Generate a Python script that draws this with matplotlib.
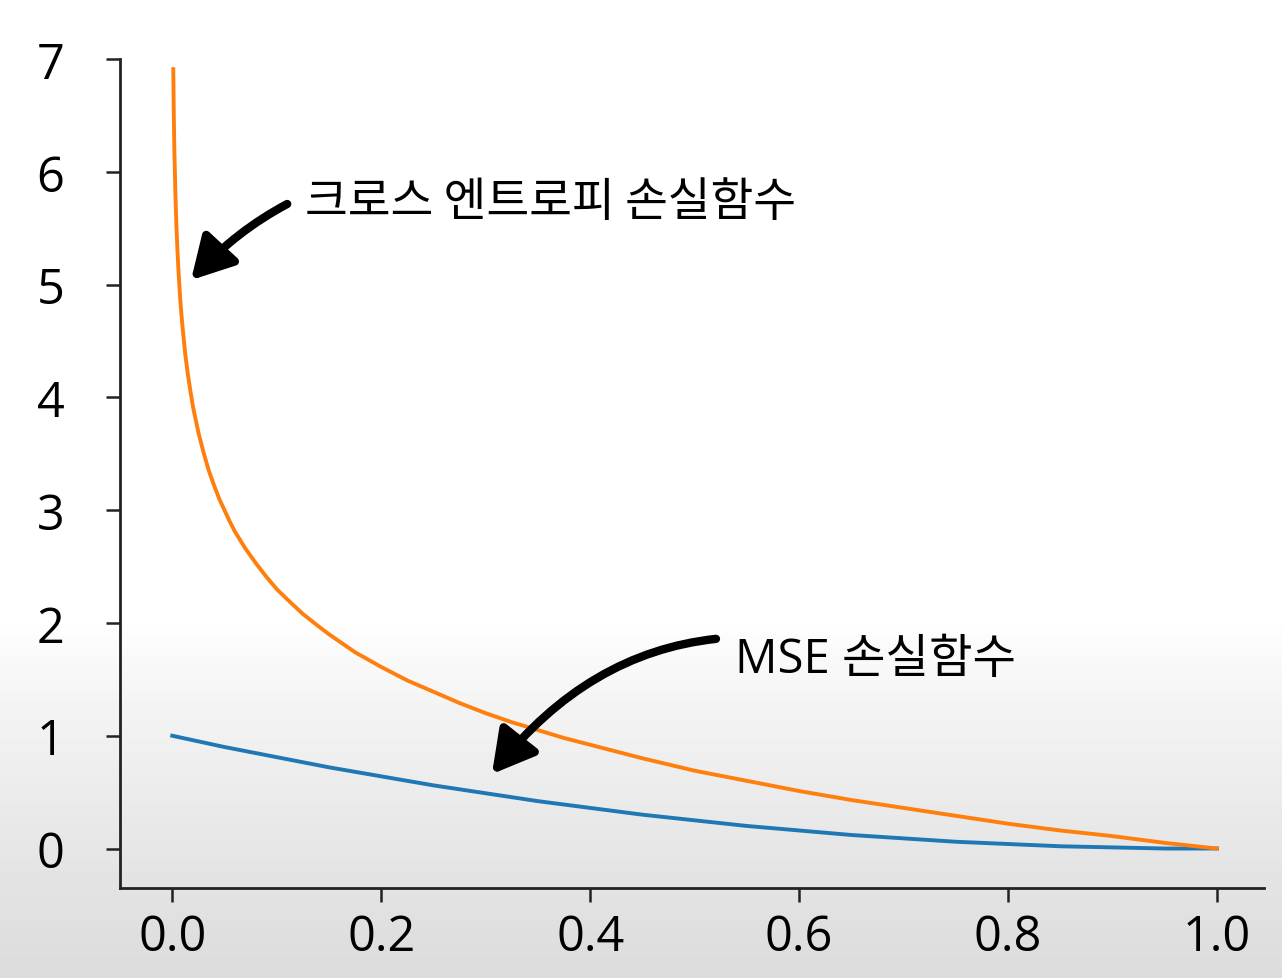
import numpy as np
import matplotlib.pyplot as plt

plt.rcParams['font.family'] = ['Open Sans', 'Noto Sans CJK KR', 'DejaVu Sans']

# 크로스 엔트로피 손실 (주황)
ce_x = [0.001, 0.0015, 0.002, 0.003, 0.004, 0.005, 0.006, 0.0075, 0.009, 0.01,
        0.0125, 0.015, 0.0175, 0.02, 0.025, 0.03, 0.035, 0.04, 0.045, 0.05,
        0.055, 0.06, 0.07, 0.08, 0.09, 0.1, 0.11, 0.125, 0.14, 0.15, 0.175,
        0.2, 0.225, 0.25, 0.275, 0.3, 0.325, 0.35, 0.375, 0.4, 0.45, 0.5, 0.55,
        0.6, 0.65, 0.7, 0.75, 0.8, 0.85, 0.9, 0.95, 1.0]
ce_y = [6.91, 6.50, 6.21, 5.81, 5.52, 5.30, 5.12, 4.89, 4.71, 4.61,
        4.38, 4.20, 4.05, 3.91, 3.69, 3.51, 3.35, 3.22, 3.10, 3.00,
        2.90, 2.81, 2.66, 2.53, 2.41, 2.30, 2.21, 2.08, 1.97, 1.90, 1.74,
        1.61, 1.49, 1.39, 1.29, 1.20, 1.12, 1.05, 0.98, 0.92, 0.80, 0.69, 0.60,
        0.51, 0.43, 0.36, 0.29, 0.22, 0.16, 0.11, 0.05, 0.0]

# MSE 손실 (파랑)
mse_x = [0.0, 0.05, 0.1, 0.15, 0.2, 0.25, 0.3, 0.35, 0.4, 0.45, 0.5,
         0.55, 0.6, 0.65, 0.7, 0.75, 0.8, 0.85, 0.9, 0.95, 1.0]
mse_y = [1.0, 0.90, 0.81, 0.72, 0.64, 0.56, 0.49, 0.42, 0.36, 0.30, 0.25,
         0.20, 0.16, 0.12, 0.09, 0.06, 0.04, 0.02, 0.01, 0.0, 0.0]

x_ticks = [0.0, 0.2, 0.4, 0.6, 0.8, 1.0]
y_ticks = [0, 1, 2, 3, 4, 5, 6, 7]

fig = plt.figure(figsize=(12.82, 9.79), dpi=100)

# 배경 그라데이션 (위: 흰색, 아래: 회색)
bg = fig.add_axes([0, 0, 1, 1], zorder=-10)
h = 979
grad = np.ones(h)
start = 620
for i in range(start, h):
    grad[i] = 1.0 - 0.14 * ((i - start) / (h - start)) ** 0.8
bg.imshow(grad[:, None], aspect='auto', cmap='gray', vmin=0, vmax=1,
          extent=[0, 1, 0, 1], origin='upper')
bg.axis('off')

ax = fig.add_axes([120 / 1282, 90 / 979, (1264 - 120) / 1282, (919 - 90) / 979])
ax.patch.set_alpha(0)

ax.plot(mse_x, mse_y, color='#1f77b4', lw=2.8)
ax.plot(ce_x, ce_y, color='#ff7f0e', lw=2.8)

ax.set_xlim(-0.05, 1.045)
ax.set_ylim(-0.35, 7.0)
ax.set_xticks(x_ticks)
ax.set_xticklabels([f"{t:.1f}" for t in x_ticks])
ax.set_yticks(y_ticks)

for s in ['top', 'right']:
    ax.spines[s].set_visible(False)
for s in ['left', 'bottom']:
    ax.spines[s].set_linewidth(2)
    ax.spines[s].set_color('#222222')

ax.tick_params(axis='both', length=10, width=1.8, color='#222222', labelsize=35)
ax.tick_params(axis='y', pad=30)
ax.tick_params(axis='x', pad=8)

arrow = dict(arrowstyle='-|>,head_length=0.75,head_width=0.42',
             connectionstyle='arc3,rad=0.35', color='black', lw=6,
             shrinkA=12, shrinkB=0)
ax.annotate('크로스 엔트로피 손실함수', xy=(0.018, 5.04), xytext=(0.127, 5.73),
            fontsize=33.5, family=['Noto Sans CJK KR'], va='center', ha='left',
            arrowprops=arrow)
ax.annotate('MSE 손실함수', xy=(0.306, 0.66), xytext=(0.539, 1.68),
            fontsize=34, family=['Open Sans', 'Noto Sans CJK KR'], va='center', ha='left',
            arrowprops=arrow)

fig.savefig('out.png', dpi=100)
